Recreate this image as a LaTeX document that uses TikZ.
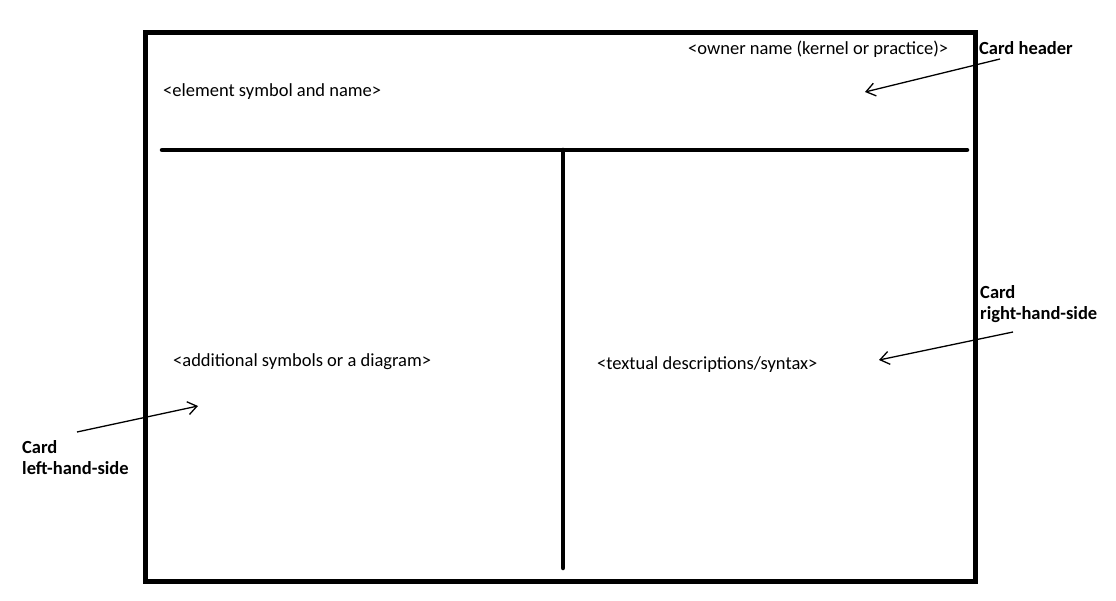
\documentclass[tikz,border=0pt]{standalone}
\usepackage{fontspec}
\setmainfont{Carlito}
\usetikzlibrary{arrows.meta,positioning}

\begin{document}
\begin{tikzpicture}
	[x=1pt,y=-1pt,every node/.style={inner sep=0pt,anchor=west,font=\fontsize{18.5}{22}\selectfont},
	 cardline/.style={line width=4.5pt,line cap=round},
	 hint/.style={font=\fontsize{18.5}{21}\selectfont\bfseries,align=left},
	 pointer/.style={line width=1.3pt,-{Straight Barb[length=9pt,width=13pt,line width=1.3pt]}}]
	\useasboundingbox (0,0) rectangle (1116,601);
	
	% the card
	\draw[line width=5pt] (145,33) rectangle (975,581);
	\coordinate (hl) at (162,150);
	\coordinate (hr) at (967,150);
	\coordinate (vt) at (563,150);
	\coordinate (vb) at (563,568);
	\draw[cardline] (hl) -- (hr);
	\draw[cardline] (vt) -- (vb);
	
	% texts on the card
	\node (owner)  at (688,49)  {<owner name (kernel or practice)>};
	\node (elem)   at (163,92)  {<element symbol and name>};
	\node (addsym) at (173,362) {<additional symbols or a diagram>};
	\node (textd)  at (597,365) {<textual descriptions/syntax>};
	
	% labels outside
	\node[hint] (hdr) at (979,48)  {Card header};
	\node[hint] (rhs) at (980,304) {Card\\right-hand-side};
	\node[hint] (lhs) at (22,458)  {Card\\left-hand-side};
	
	\coordinate (hdrtail) at (1000,59);
	\coordinate (hdrtip)  at (865,92);
	\coordinate (rhstail) at (1013,332);
	\coordinate (rhstip)  at (879,360);
	\coordinate (lhstail) at (77,432);
	\coordinate (lhstip)  at (198,406);
	
	\foreach \from/\to in {hdrtail/hdrtip,rhstail/rhstip,lhstail/lhstip}
	\draw[pointer] (\from) -- (\to);
	
\end{tikzpicture}
\end{document}
